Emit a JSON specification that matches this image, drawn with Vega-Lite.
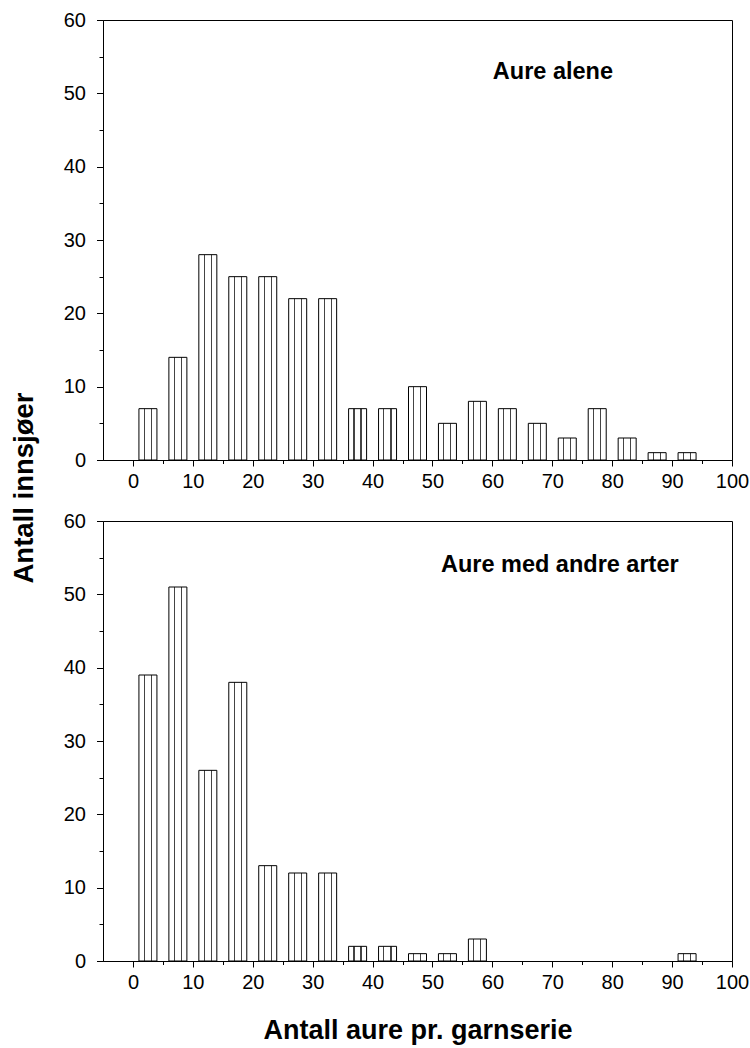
{
  "$schema": "https://vega.github.io/schema/vega-lite/v6.json",
  "autosize": {"type": "pad"},
  "padding": {"left": 9, "top": 9, "right": 2, "bottom": 5},
  "bounds": "flush",
  "spacing": 61,
  "background": "white",
  "config": {
    "font": "Liberation Sans",
    "view": {"stroke": "black", "strokeWidth": 1},
    "scale": {"continuousPadding": 0},
    "axis": {
      "grid": false,
      "domainColor": "black",
      "domainWidth": 1,
      "tickColor": "black",
      "tickWidth": 1,
      "labelColor": "black",
      "titleColor": "black",
      "labelFont": "Liberation Sans",
      "titleFont": "Liberation Sans",
      "labelFontSize": 20,
      "labelFlush": false,
      "labelOverlap": false,
      "labelBound": false
    }
  },
  "datasets": {
    "alene": [
      {"aure": 2.5, "innsjoer": 7},
      {"aure": 7.5, "innsjoer": 14},
      {"aure": 12.5, "innsjoer": 28},
      {"aure": 17.5, "innsjoer": 25},
      {"aure": 22.5, "innsjoer": 25},
      {"aure": 27.5, "innsjoer": 22},
      {"aure": 32.5, "innsjoer": 22},
      {"aure": 37.5, "innsjoer": 7},
      {"aure": 42.5, "innsjoer": 7},
      {"aure": 47.5, "innsjoer": 10},
      {"aure": 52.5, "innsjoer": 5},
      {"aure": 57.5, "innsjoer": 8},
      {"aure": 62.5, "innsjoer": 7},
      {"aure": 67.5, "innsjoer": 5},
      {"aure": 72.5, "innsjoer": 3},
      {"aure": 77.5, "innsjoer": 7},
      {"aure": 82.5, "innsjoer": 3},
      {"aure": 87.5, "innsjoer": 1},
      {"aure": 92.5, "innsjoer": 1}
    ],
    "andre": [
      {"aure": 2.5, "innsjoer": 39},
      {"aure": 7.5, "innsjoer": 51},
      {"aure": 12.5, "innsjoer": 26},
      {"aure": 17.5, "innsjoer": 38},
      {"aure": 22.5, "innsjoer": 13},
      {"aure": 27.5, "innsjoer": 12},
      {"aure": 32.5, "innsjoer": 12},
      {"aure": 37.5, "innsjoer": 2},
      {"aure": 42.5, "innsjoer": 2},
      {"aure": 47.5, "innsjoer": 1},
      {"aure": 52.5, "innsjoer": 1},
      {"aure": 57.5, "innsjoer": 3},
      {"aure": 92.5, "innsjoer": 1}
    ]
  },
  "vconcat": [
    {
      "width": 629,
      "height": 440,
      "layer": [
        {
          "data": {"name": "alene"},
          "mark": {
            "type": "bar",
            "width": 18,
            "stroke": "black",
            "strokeWidth": 1,
            "fill": {
              "gradient": "linear", "x1": 0, "y1": 0, "x2": 1, "y2": 0,
              "stops": [
                {"offset": 0, "color": "white"},
                {"offset": 0.27, "color": "white"},
                {"offset": 0.27, "color": "#444444"},
                {"offset": 0.33, "color": "#444444"},
                {"offset": 0.33, "color": "white"},
                {"offset": 0.66, "color": "white"},
                {"offset": 0.66, "color": "#444444"},
                {"offset": 0.72, "color": "#444444"},
                {"offset": 0.72, "color": "white"},
                {"offset": 1, "color": "white"}
              ]
            }
          },
          "encoding": {
            "x": {
              "field": "aure", "type": "quantitative",
              "scale": {"domain": [-5, 100], "nice": false, "zero": false, "padding": 0},
              "axis": {"values": [0, 10, 20, 30, 40, 50, 60, 70, 80, 90, 100], "tickSize": 6, "labelPadding": 5, "title": null}
            },
            "y": {
              "field": "innsjoer", "type": "quantitative",
              "scale": {"domain": [0, 60], "nice": false, "padding": 0},
              "axis": {
                "values": [0, 10, 20, 30, 40, 50, 60], "tickSize": 6.5, "labelPadding": 11,
                "title": "Antall innsjøer", "titleFontSize": 27.5, "titleFontWeight": "bold",
                "titleAngle": 270, "titleBaseline": "alphabetic", "titleAlign": "center",
                "titleX": -70.7, "titleY": 467.5
              }
            }
          }
        },
        {
          "data": {"values": [{}]},
          "mark": {"type": "text", "fontSize": 23.5, "fontWeight": "bold", "align": "center", "baseline": "alphabetic", "color": "black", "font": "Liberation Sans"},
          "encoding": {
            "x": {"datum": 70.1, "type": "quantitative", "axis": {"orient": "bottom", "values": [5, 15, 25, 35, 45, 55, 65, 75, 85, 95], "tickSize": 3.5, "labels": false, "domain": false, "title": null}},
            "y": {"datum": 52, "type": "quantitative", "axis": {"orient": "left", "values": [5, 15, 25, 35, 45, 55], "tickSize": 4, "labels": false, "domain": false, "title": null}},
            "text": {"value": "Aure alene"}
          }
        }
      ],
      "resolve": {"axis": {"x": "independent", "y": "independent"}}
    },
    {
      "width": 629,
      "height": 440,
      "layer": [
        {
          "data": {"name": "andre"},
          "mark": {
            "type": "bar",
            "width": 18,
            "stroke": "black",
            "strokeWidth": 1,
            "fill": {
              "gradient": "linear", "x1": 0, "y1": 0, "x2": 1, "y2": 0,
              "stops": [
                {"offset": 0, "color": "white"},
                {"offset": 0.27, "color": "white"},
                {"offset": 0.27, "color": "#444444"},
                {"offset": 0.33, "color": "#444444"},
                {"offset": 0.33, "color": "white"},
                {"offset": 0.66, "color": "white"},
                {"offset": 0.66, "color": "#444444"},
                {"offset": 0.72, "color": "#444444"},
                {"offset": 0.72, "color": "white"},
                {"offset": 1, "color": "white"}
              ]
            }
          },
          "encoding": {
            "x": {
              "field": "aure", "type": "quantitative",
              "scale": {"domain": [-5, 100], "nice": false, "zero": false, "padding": 0},
              "axis": {
                "values": [0, 10, 20, 30, 40, 50, 60, 70, 80, 90, 100], "tickSize": 6, "labelPadding": 5,
                "title": "Antall aure pr. garnserie", "titleFontSize": 27, "titleFontWeight": "bold",
                "titleBaseline": "alphabetic", "titleAlign": "center", "titleX": 314.5, "titleY": 77.3
              }
            },
            "y": {
              "field": "innsjoer", "type": "quantitative",
              "scale": {"domain": [0, 60], "nice": false, "padding": 0},
              "axis": {"values": [0, 10, 20, 30, 40, 50, 60], "tickSize": 6.5, "labelPadding": 11, "title": null}
            }
          }
        },
        {
          "data": {"values": [{}]},
          "mark": {"type": "text", "fontSize": 23.5, "fontWeight": "bold", "align": "center", "baseline": "alphabetic", "color": "black", "font": "Liberation Sans"},
          "encoding": {
            "x": {"datum": 71.25, "type": "quantitative", "axis": {"orient": "bottom", "values": [5, 15, 25, 35, 45, 55, 65, 75, 85, 95], "tickSize": 3.5, "labels": false, "domain": false, "title": null}},
            "y": {"datum": 53, "type": "quantitative", "axis": {"orient": "left", "values": [5, 15, 25, 35, 45, 55], "tickSize": 4, "labels": false, "domain": false, "title": null}},
            "text": {"value": "Aure med andre arter"}
          }
        }
      ],
      "resolve": {"axis": {"x": "independent", "y": "independent"}}
    }
  ]
}
